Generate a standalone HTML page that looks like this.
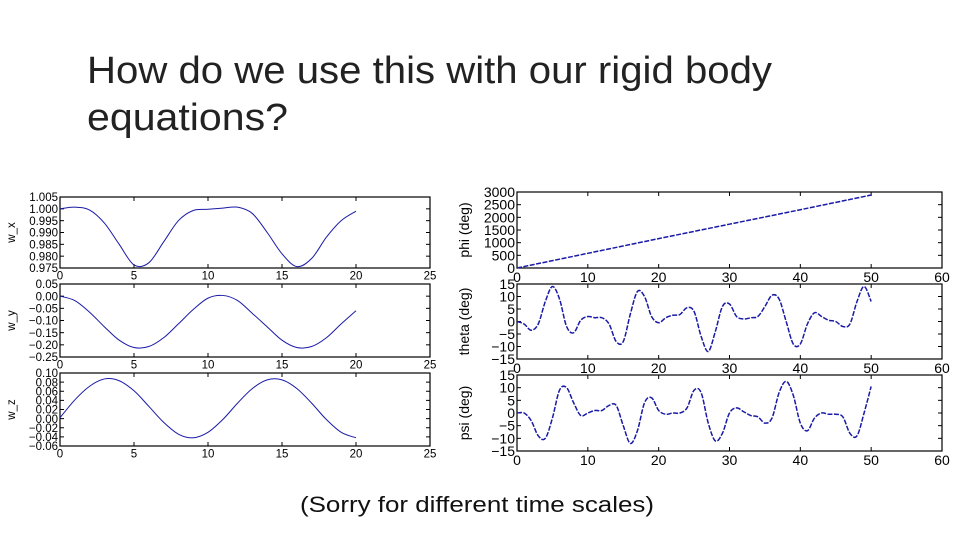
<!DOCTYPE html>
<html><head><meta charset="utf-8"><style>
html,body{margin:0;padding:0;background:#fff;width:960px;height:540px;overflow:hidden}
svg{display:block;font-family:"Liberation Sans",sans-serif}
</style></head><body>
<svg id="s" width="960" height="540" viewBox="0 0 960 540">
<text x="87" y="83" font-size="38" fill="#222" textLength="685" lengthAdjust="spacingAndGlyphs">How do we use this with our rigid body</text>
<text x="87" y="130" font-size="38" fill="#222" textLength="201" lengthAdjust="spacingAndGlyphs">equations?</text>
<text x="477" y="512" font-size="22" fill="#111" text-anchor="middle" textLength="354" lengthAdjust="spacingAndGlyphs">(Sorry for different time scales)</text>
</svg>
<script>
const tLeft = [0,1,2,3,4,5,6,7,8,9,10,11,12,13,14,15,16,17,18,19,20];
const wxValues = [1.000,1.0007,0.9995,0.994,0.985,0.9763,0.9772,0.986,0.995,0.9993,0.9998,1.0003,1.0007,0.998,0.990,0.981,0.9756,0.979,0.988,0.995,0.999];
const wyValues = [0.000,-0.018,-0.066,-0.126,-0.181,-0.211,-0.207,-0.171,-0.114,-0.055,-0.008,0.003,-0.018,-0.071,-0.126,-0.181,-0.211,-0.207,-0.171,-0.114,-0.060];
const wzValues = [0.002,0.041,0.071,0.087,0.083,0.061,0.027,-0.008,-0.034,-0.042,-0.030,-0.002,0.034,0.066,0.085,0.085,0.066,0.034,-0.002,-0.030,-0.042];
const tPhi = [0,10,20,30,40,50];
const phiValues = [0,580,1160,1730,2300,2880];
const tRight = [0,1,2,3,4,5,6,7,8,9,10,11,12,13,14,15,16,17,18,19,20,21,22,23,24,25,26,27,28,29,30,31,32,33,34,35,36,37,38,39,40,41,42,43,44,45,46,47,48,49,50];
const thetaValues = [0,-1,-3.5,-1,8,14,9,-2,-4.5,0.5,2,1.5,1.5,-1,-8,-8,3,12,10,2,-0.5,1.5,2.5,2.8,5.5,4,-6,-12,-4,6,7,2,1,1.5,2,6,10.5,9,0,-9,-9,-1,3.5,2,0.5,0,-2,-1,8,14,8];
const psiValues = [0,0,-3,-9,-10,-2,9,10,4,-1,0,1,1,3,3,-5,-12,-7,4,6,1,-0.5,0,0,2,9,8,-4,-11,-8,0,2,0.5,-1,-1.5,-4,-2,8,12.5,7,-4,-7,-2,0,-0.5,-0.5,-1.5,-8,-9,0,10.5];
const xTicksLeft = [0,5,10,15,20,25];
const xTicksRight = [0,10,20,30,40,50,60];
const wxTicks = ["1.005","1.000","0.995","0.990","0.985","0.980","0.975"];
const wyTicks = ["0.05","0.00","\u22120.05","\u22120.10","\u22120.15","\u22120.20","\u22120.25"];
const wzTicks = ["0.10","0.08","0.06","0.04","0.02","0.00","\u22120.02","\u22120.04","\u22120.06"];
const phiTicks = ["3000","2500","2000","1500","1000","500","0"];
const angTicks = ["15","10","5","0","\u22125","\u221210","\u221215"];

const NS="http://www.w3.org/2000/svg";
const svg=document.getElementById('s');
function mk(tag,attrs,parent){const e=document.createElementNS(NS,tag);for(const k in attrs)e.setAttribute(k,attrs[k]);(parent||svg).appendChild(e);return e;}
function num(s){return parseFloat(s.replace('\u2212','-'));}

function panel(name,box,xmin,xmax,ymin,ymax,xt,yt,ylabel,xs,ys,dashed,fs,smooth){
  const g=mk('g',{});
  
  
  const sx=v=>box.x0+(v-xmin)/(xmax-xmin)*(box.x1-box.x0);
  const sy=v=>box.y1-(v-ymin)/(ymax-ymin)*(box.y1-box.y0);
  const fr=mk('rect',{x:box.x0,y:box.y0,width:box.x1-box.x0,height:box.y1-box.y0,fill:'#fff',stroke:'#000','stroke-width':1.2},g);
  
  
  xt.forEach(v=>{
    const x=sx(v);
    mk('line',{x1:x,y1:box.y1,x2:x,y2:box.y1-4,stroke:'#000'},g);
    mk('line',{x1:x,y1:box.y0,x2:x,y2:box.y0+4,stroke:'#000'},g);
    const t=mk('text',{x:x,y:box.y1+fs,'font-size':fs,'text-anchor':'middle',fill:'#000'},g);
    t.textContent=v;
    
    
  });
  yt.forEach(s=>{
    const y=sy(num(s));
    mk('line',{x1:box.x0,y1:y,x2:box.x0+4,y2:y,stroke:'#000'},g);
    mk('line',{x1:box.x1,y1:y,x2:box.x1-4,y2:y,stroke:'#000'},g);
    const t=mk('text',{x:box.x0-2,y:y+fs*0.36,'font-size':fs,'text-anchor':'end',fill:'#000'},g);
    t.textContent=s;
    
    
  });
  const lx=box.x0-(fs>12?48:45), ly=(box.y0+box.y1)/2;
  const yl=mk('text',{x:lx,y:ly,'font-size':fs,'text-anchor':'middle',fill:'#000',transform:`rotate(-90 ${lx} ${ly})`},g);
  yl.textContent=ylabel;
  
  
  const P=xs.map((x,i)=>[sx(x),sy(ys[i])]);
  let d='M'+P[0][0]+','+P[0][1];
  for(let i=0;i<P.length-1;i++){
    if(!smooth){d+=' L'+P[i+1][0]+','+P[i+1][1];continue;}
    const p0=P[Math.max(0,i-1)],p1=P[i],p2=P[i+1],p3=P[Math.min(P.length-1,i+2)];
    const c1=[p1[0]+(p2[0]-p0[0])/6,p1[1]+(p2[1]-p0[1])/6];
    const c2=[p2[0]-(p3[0]-p1[0])/6,p2[1]-(p3[1]-p1[1])/6];
    d+=` C${c1[0]},${c1[1]} ${c2[0]},${c2[1]} ${p2[0]},${p2[1]}`;
  }
  const ln=mk('path',{d:d,fill:'none',stroke:'#1a1aa8','stroke-width':dashed?1.5:1,'stroke-dasharray':dashed?'5,1.5':'none'},g);
  
  
}

panel('wx-plot',{x0:60,x1:430,y0:197,y1:268},0,25,0.975,1.005,xTicksLeft,wxTicks,'w_x',tLeft,wxValues,false,11.5,true);
panel('wy-plot',{x0:60,x1:430,y0:284,y1:357},0,25,-0.25,0.05,xTicksLeft,wyTicks,'w_y',tLeft,wyValues,false,11.5,true);
panel('wz-plot',{x0:60,x1:430,y0:373,y1:446},0,25,-0.06,0.10,xTicksLeft,wzTicks,'w_z',tLeft,wzValues,false,11.5,true);
panel('phi-plot',{x0:517,x1:942,y0:192,y1:268},0,60,0,3000,xTicksRight,phiTicks,'phi (deg)',tPhi,phiValues,true,14,false);
panel('theta-plot',{x0:517,x1:942,y0:284,y1:359},0,60,-15,15,xTicksRight,angTicks,'theta (deg)',tRight,thetaValues,true,14,true);
panel('psi-plot',{x0:517,x1:942,y0:375,y1:451},0,60,-15,15,xTicksRight,angTicks,'psi (deg)',tRight,psiValues,true,14,true);
</script>
</body></html>
